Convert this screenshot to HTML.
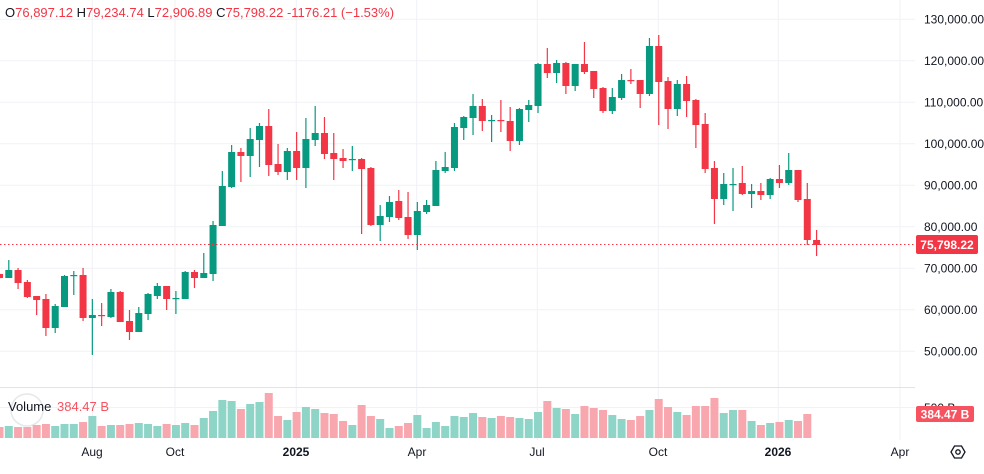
<!DOCTYPE html>
<html><head><meta charset="utf-8">
<style>
html,body{margin:0;padding:0;background:#fff;}
body{width:984px;height:474px;overflow:hidden;position:relative;font-family:"Liberation Sans",sans-serif;}
svg{position:absolute;left:0;top:0;}
</style></head>
<body>
<svg id="c" width="984" height="474" xmlns="http://www.w3.org/2000/svg">
<g id="grid" stroke="#f0f2f5" stroke-width="1"></g>
<line x1="0" y1="387.5" x2="915" y2="387.5" stroke="#e0e3eb"/>
<line x1="0" y1="407.5" x2="915" y2="407.5" stroke="#f0f2f5"/>
<circle cx="27" cy="410" r="16" fill="none" stroke="#e6e7ea" stroke-width="1.5"/>
<g id="vol"></g>
<g id="candles"></g>
<line x1="0" y1="244.5" x2="915" y2="244.5" stroke="#f23645" stroke-width="1" stroke-dasharray="1.5,2.5"/>
<g font-size="12" fill="#131722" font-family="Liberation Sans, sans-serif">
<text x="924" y="23.5">130,000.00</text>
<text x="924" y="65">120,000.00</text>
<text x="924" y="106.5">110,000.00</text>
<text x="924" y="148">100,000.00</text>
<text x="924" y="189.5">90,000.00</text>
<text x="924" y="231">80,000.00</text>
<text x="924" y="272.5">70,000.00</text>
<text x="924" y="314">60,000.00</text>
<text x="924" y="355.5">50,000.00</text>
<text x="924" y="412">500 B</text>
</g>
<rect x="916" y="235" width="62" height="19" rx="2" fill="#f23645"/>
<text x="947" y="249" font-size="12" fill="#fff" text-anchor="middle" font-weight="bold">75,798.22</text>
<rect x="916" y="406" width="58" height="16" rx="2" fill="#f7525f"/>
<text x="945" y="418.5" font-size="12" fill="#fff" text-anchor="middle" font-weight="bold">384.47 B</text>
<text x="8" y="411" font-size="13" fill="#131722">Volume</text>
<text x="57" y="411" font-size="13" fill="#f7525f">384.47 B</text>
<g font-size="12" fill="#131722" text-anchor="middle">
<text x="92" y="456">Aug</text>
<text x="175" y="456">Oct</text>
<text x="296" y="456" font-weight="bold">2025</text>
<text x="417" y="456">Apr</text>
<text x="537" y="456">Jul</text>
<text x="658" y="456">Oct</text>
<text x="778" y="456" font-weight="bold">2026</text>
<text x="900" y="456">Apr</text>
</g>
<polygon points="951,452 954.5,446 961.5,446 965,452 961.5,458 954.5,458" fill="none" stroke="#131722" stroke-width="1.3"/>
<circle cx="958" cy="452" r="2.2" fill="none" stroke="#131722" stroke-width="1.3"/>
<text x="5" y="17" font-size="13" fill="#f23645"><tspan fill="#131722">O</tspan>76,897.12 <tspan fill="#131722">H</tspan>79,234.74 <tspan fill="#131722">L</tspan>72,906.89 <tspan fill="#131722">C</tspan>75,798.22 -1176.21 (−1.53%)</text>
</svg>
<script>
var NS="http://www.w3.org/2000/svg";
function el(p,t,a){var e=document.createElementNS(NS,t);for(var k in a)e.setAttribute(k,a[k]);p.appendChild(e);return e;}
var g=document.getElementById("grid");
[19.3,60.8,102.3,143.8,185.3,226.8,268.3,309.8,351.3].forEach(function(y){el(g,"line",{x1:0,x2:915,y1:y,y2:y});});
[92.3,175,296.3,416.7,537.3,658.3,778.3,900].forEach(function(x){el(g,"line",{x1:x,x2:x,y1:0,y2:440});});
// [green?, bodyTop, bodyBot, hi, lo]
var D=[
[0,274,278,273,279],[1,270,278,260,278],[0,270,283,268,289],[0,282,297,280,298],[0,296,300,296,315],
[0,299,328,294,336],[1,306,328,304,333],[1,276,307,275,307],[1,275,276,271,295],[0,275,318,268,321],
[1,315,318,299,355],[0,315,316,303,326],[1,292,317,289,318],[0,292,322,291,322],[0,321,332,310,340],
[1,313,332,307,332],[1,294,314,293,320],[1,286,296,283,299],[0,286,299,286,310],[1,298,299,291,314],
[1,272,299,271,299],[0,272,278,270,288],[1,273,278,253,278],[1,225,274,221,281],[1,186,226,171,226],
[1,152,187,145,188],[0,152,156,148,182],[1,139,156,128,177],[1,126,140,123,167],[0,126,165,109,176],
[0,164,172,144,175],[1,151,172,148,180],[0,151,168,132,180],[1,139,168,118,188],[1,133,140,106,146],
[0,133,154,117,159],[0,153,159,133,180],[0,158,161,149,168],[1,159,160,146,171],[0,159,169,158,234],
[0,168,225,167,226],[1,216,225,205,241],[1,202,217,196,222],[0,201,218,190,220],[0,217,235,192,239],
[1,211,235,202,250],[1,205,212,200,214],[1,170,206,161,206],[1,167,171,152,173],[1,127,168,123,171],
[1,117,128,116,140],[1,106,118,94,135],[0,106,121,99,131],[1,120,121,115,142],[0,120,121,100,132],
[0,121,141,107,151],[1,109,141,108,145],[1,105,110,100,122],[1,64,106,63,113],[0,64,73,48,78],
[1,63,73,60,83],[0,63,86,62,94],[1,64,86,64,91],[0,64,72,42,74],[0,71,89,71,98],
[0,88,111,87,113],[1,97,111,88,114],[1,80,98,74,100],[0,80,81,69,84],[0,80,94,80,108],
[1,46,94,38,96],[0,46,82,35,125],[0,81,109,77,129],[1,84,109,80,116],[0,84,101,76,117],
[0,100,125,99,148],[0,124,169,113,173],[0,168,199,161,224],[1,184,199,173,205],[1,184,185,168,211],
[0,183,194,166,195],[1,191,194,184,208],[0,191,195,183,200],[1,179,195,178,199],[0,179,183,165,188],
[1,170,183,153,185],[0,170,200,170,202],[0,199,240,183,245],[0,240,245,230,256]];
var V=[11,12,11,11,13,14,12,14,14,16,22,12,13,13,14,15,14,12,14,13,15,13,20,27,38,37,29,34,36,45,
22,18,26,31,29,25,24,17,13,33,22,19,10,12,15,23,10,16,12,22,21,25,21,20,22,21,20,19,26,37,
30,29,24,32,30,28,23,19,18,22,28,39,31,26,23,32,32,40,25,28,28,17,13,15,16,18,17,24];
var cg=document.getElementById("candles"),vg=document.getElementById("vol");
D.forEach(function(d,i){
 var cx=-0.5+9.285*i, col=d[0]?"#089981":"#f23645";
 el(cg,"line",{x1:cx,x2:cx,y1:d[3],y2:d[4],stroke:col,"stroke-width":1.2});
 el(cg,"rect",{x:cx-3.5,y:d[1],width:7,height:Math.max(1.2,d[2]-d[1]),fill:col});
 if(i<V.length){var h=V[i];el(vg,"rect",{x:cx-4,y:438-h,width:8,height:h,fill:d[0]?"#8ed5c8":"#f9a7ae"});}
});
</script>
</body></html>
